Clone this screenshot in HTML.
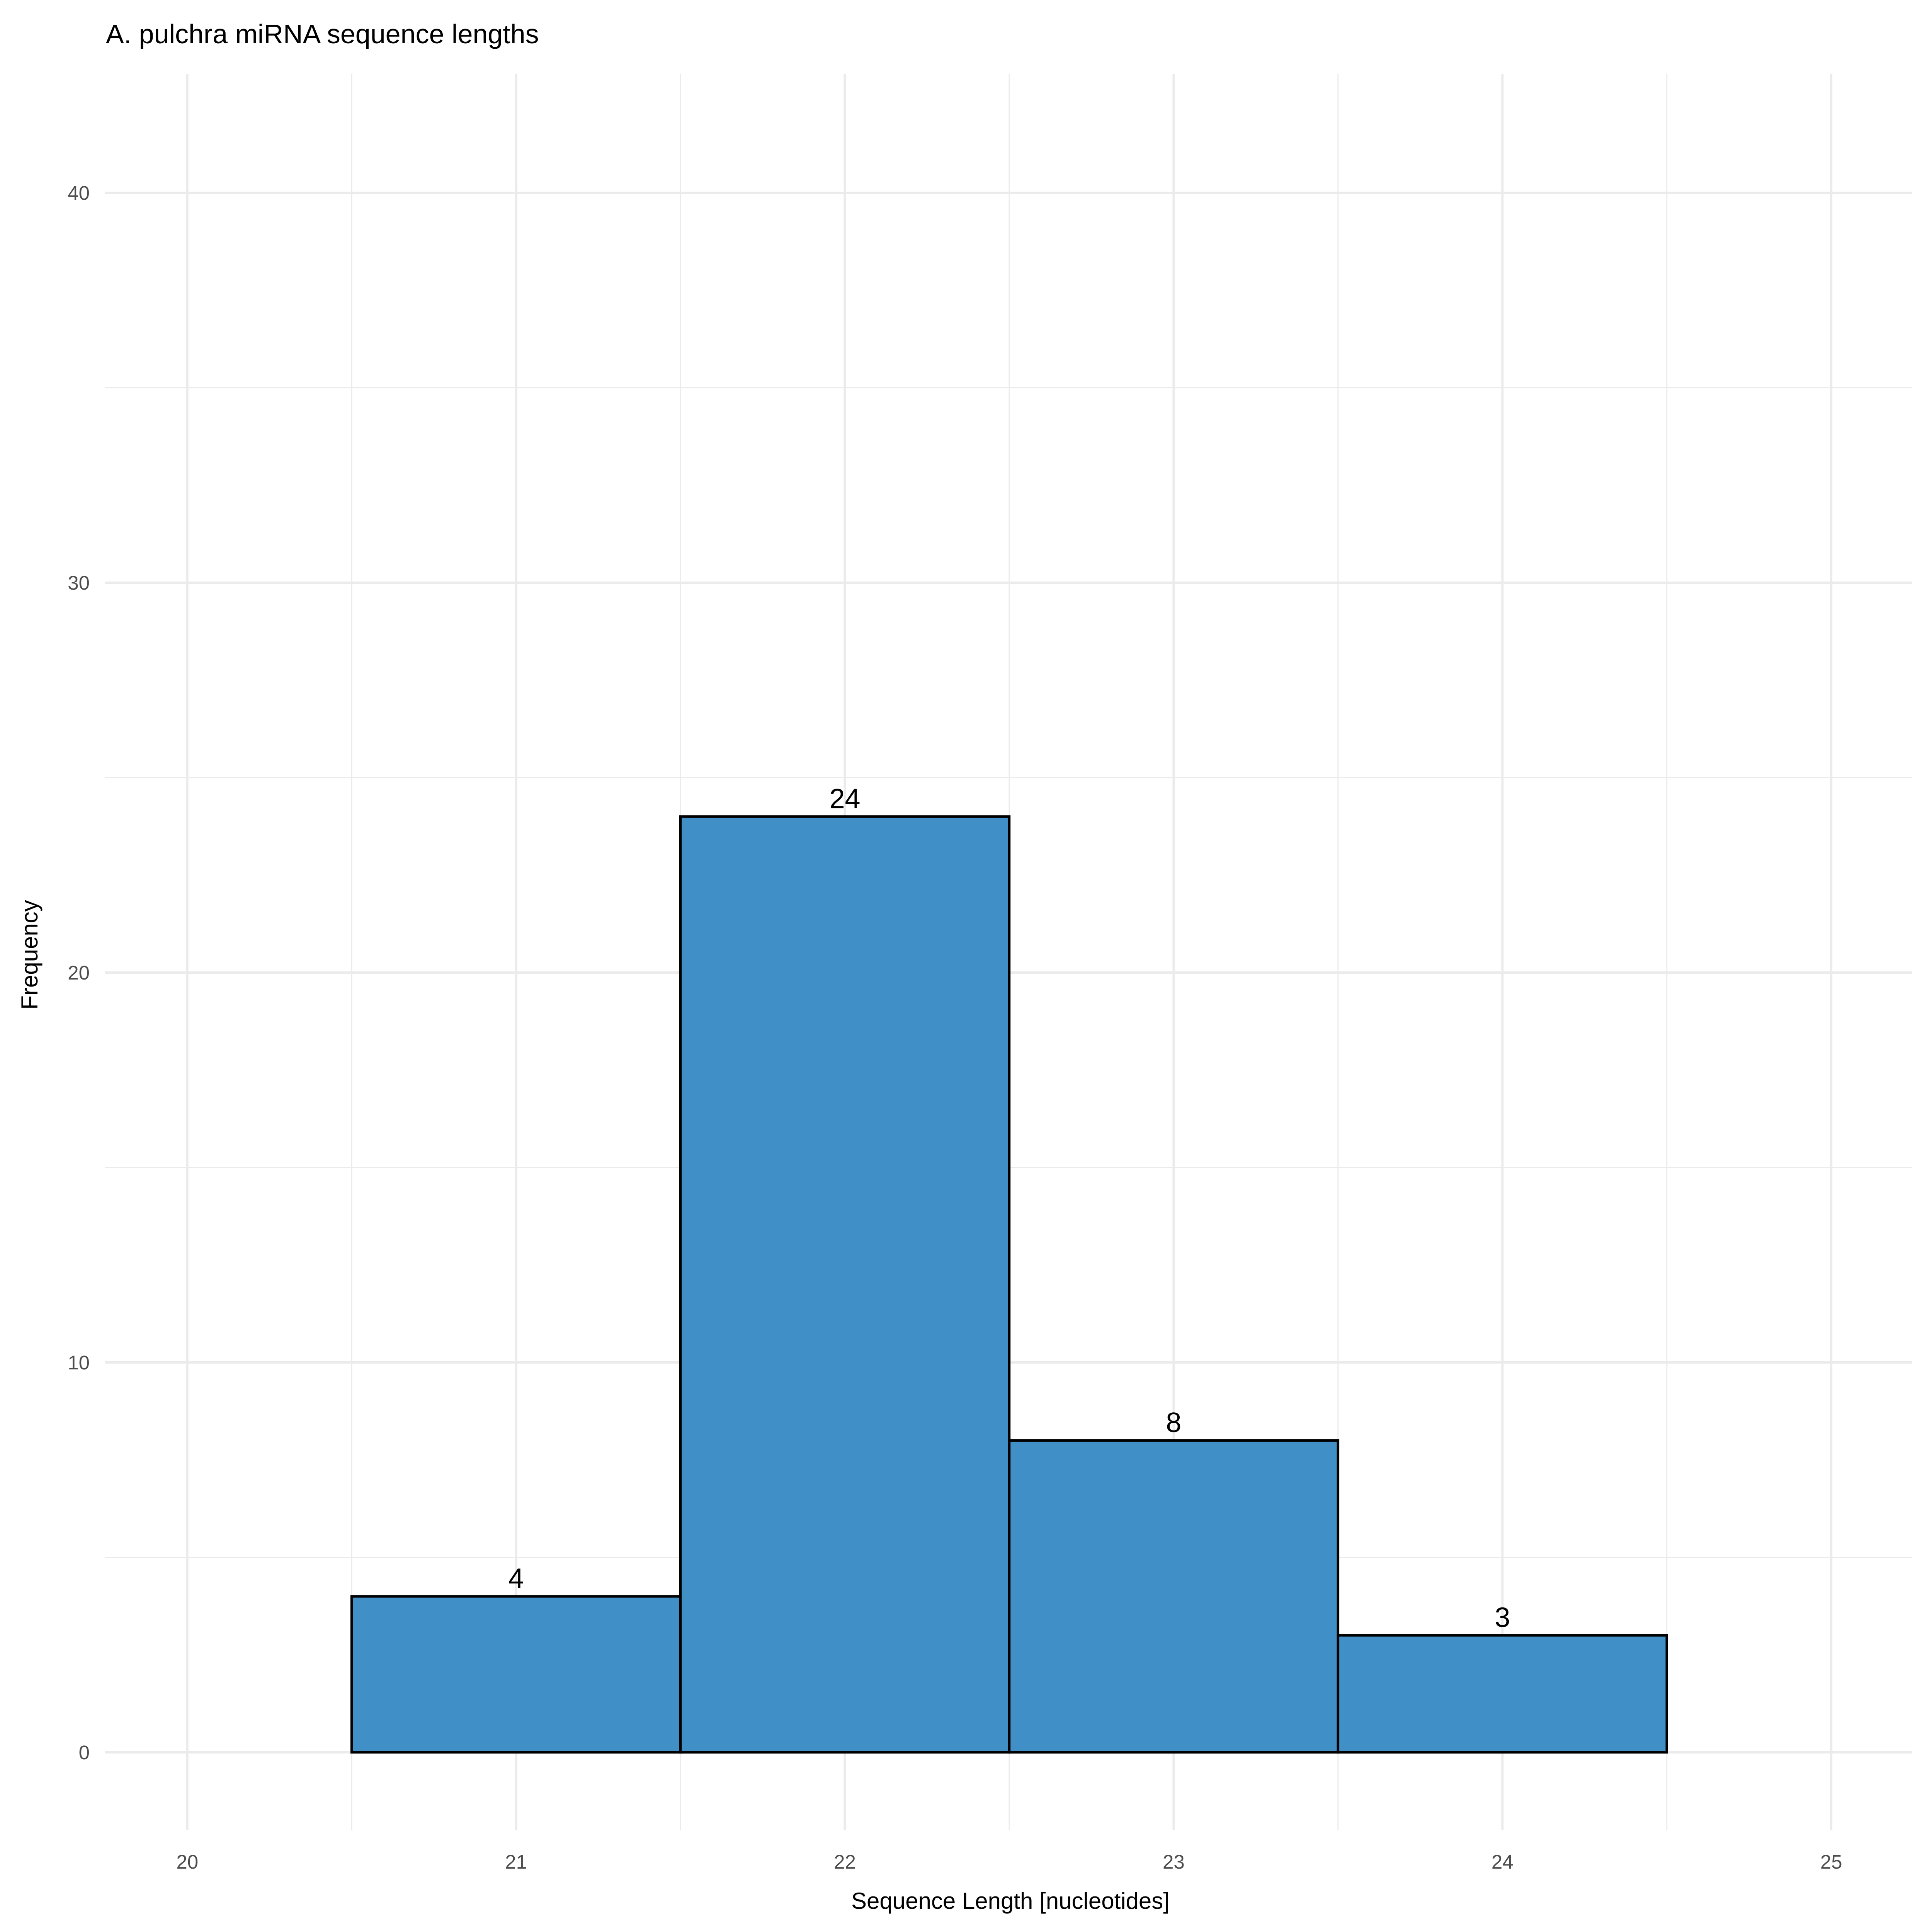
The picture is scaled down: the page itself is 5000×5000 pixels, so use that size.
<!DOCTYPE html>
<html><head><meta charset="utf-8"><style>html,body{margin:0;padding:0;background:#fff}svg{display:block}text{font-family:"Liberation Sans",sans-serif}</style></head>
<body>
<svg id="chart" width="5000" height="5000" viewBox="0 0 5000 5000" xmlns="http://www.w3.org/2000/svg">
<rect width="5000" height="5000" fill="#fff"/>
<g id="grid"></g>
<g id="bars"></g>
<g id="labels"></g>
<g id="xticks"></g>
<g id="yticks"></g>
<text x="274" y="112" font-size="70" fill="#000">A. pulchra miRNA sequence lengths</text>
<text x="2615" y="4940" font-size="60" text-anchor="middle" fill="#000">Sequence Length [nucleotides]</text>
<text x="0" y="0" font-size="60" text-anchor="middle" fill="#000" transform="translate(97,2471) rotate(-90)">Frequency</text>
</svg>
<script>
const categories = [21, 22, 23, 24];
const counts = [4, 24, 8, 3];
const xTickLabels = [20, 21, 22, 23, 24, 25];
const yTickLabels = [0, 10, 20, 30, 40];
const NS = "http://www.w3.org/2000/svg";
const panel = {l: 271, r: 4949, t: 191, b: 4736};
function xs(v){ return 484.7 + (v - 20) * 850.9; }
function ys(v){ return 4535 - v * 100.9; }
function mk(tag, attrs, parent){ const e = document.createElementNS(NS, tag); for (const k in attrs) e.setAttribute(k, attrs[k]); parent.appendChild(e); return e; }
const grid = document.getElementById('grid');
for (let v = 5; v <= 35; v += 10) {
  const l = mk('line', {x1: panel.l, x2: panel.r, y1: ys(v), y2: ys(v), stroke: '#ebebeb', 'stroke-width': 3}, grid);
  
  
}
for (let v = 20.5; v < 25; v += 1) {
  const l = mk('line', {x1: xs(v), x2: xs(v), y1: panel.t, y2: panel.b, stroke: '#ebebeb', 'stroke-width': 3}, grid);
  
  
}
yTickLabels.forEach(v => {
  const l = mk('line', {x1: panel.l, x2: panel.r, y1: ys(v), y2: ys(v), stroke: '#ebebeb', 'stroke-width': 6}, grid);
  
  
  const t = mk('text', {x: 232, y: ys(v) + 18, 'font-size': 51, fill: '#4d4d4d', 'text-anchor': 'end'}, document.getElementById('yticks'));
  t.textContent = v;
  
  
});
xTickLabels.forEach(v => {
  const l = mk('line', {x1: xs(v), x2: xs(v), y1: panel.t, y2: panel.b, stroke: '#ebebeb', 'stroke-width': 6}, grid);
  
  
  const t = mk('text', {x: xs(v), y: 4836, 'font-size': 51, fill: '#4d4d4d', 'text-anchor': 'middle'}, document.getElementById('xticks'));
  t.textContent = v;
  
  
});
categories.forEach((c, i) => {
  const x0 = xs(c - 0.5), x1 = xs(c + 0.5), y = ys(counts[i]);
  const r = mk('rect', {x: x0, y: y, width: x1 - x0, height: ys(0) - y, fill: '#408fc6', stroke: '#000', 'stroke-width': 6.5}, document.getElementById('bars'));
  
  
  const t = mk('text', {x: xs(c), y: y - 22, 'font-size': 72, fill: '#000', 'text-anchor': 'middle'}, document.getElementById('labels'));
  t.textContent = counts[i];
  
  
});
</script>
</body></html>
